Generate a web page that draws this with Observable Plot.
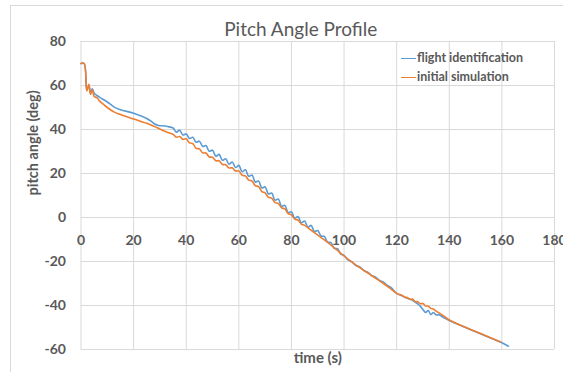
<!DOCTYPE html>
<html><head><meta charset="utf-8">
<script src="https://cdn.jsdelivr.net/npm/d3@7"></script>
<script src="https://cdn.jsdelivr.net/npm/@observablehq/plot@0.6"></script>
<style>
html,body{margin:0;padding:0;background:#fff;}
#wrap{position:relative;width:563px;height:372px;overflow:hidden;font-family:Lato,sans-serif;}
#frame{position:absolute;left:10px;top:5px;width:640px;height:440px;border:1px solid #d9d9d9;box-sizing:border-box;}
#chart{position:absolute;left:0;top:0;}
#legend{position:absolute;left:401px;top:48px;font-family:Lato,sans-serif;font-weight:bold;font-size:12.5px;color:#595959;line-height:19px;white-space:nowrap;}
#legend .sw{display:inline-block;width:15px;height:0;border-top:1.6px solid;vertical-align:middle;margin-right:1px;}
</style></head>
<body>
<div id="wrap"><div id="frame"></div><div id="chart"></div><div id="legend"></div></div>
<script>
const titleText = "Pitch Angle Profile";
const xLabel = "time (s)";
const yLabel = "pitch angle (deg)";
const seriesNames = ["flight identification", "initial simulation"];
const seriesColors = ["#5B9BD5", "#ED7D31"];
const xTicks = [0, 20, 40, 60, 80, 100, 120, 140, 160, 180];
const yTicks = [-60, -40, -20, 0, 20, 40, 60, 80];

const flightT = [0, 1.2, 2.2, 3, 3.6, 4.3, 5, 6, 8, 10, 12.5, 15, 20, 25, 27, 28, 29.5, 32, 33.5,
  35, 36.25, 37.5, 38.75, 40, 41.25, 42.5, 43.75, 45, 46.25, 47.5, 48.75, 50, 51.25, 52.5, 53.75,
  55, 56.25, 57.5, 58.75, 60, 61.25, 62.5, 63.75, 65, 66.25, 67.5, 68.75, 70, 71.25, 72.5, 73.75,
  75, 76.25, 77.5, 78.75, 80, 81.25, 82.5, 83.75, 85, 86.25, 87.5, 88.75, 90, 91.25, 92.5, 93.75,
  95, 96.25, 97.5, 98.75, 100, 101.5, 103, 104.5, 106, 107.5, 109, 110.5, 112, 113.5, 115, 116.5,
  118, 120, 122, 124, 126, 128, 129, 130, 131, 132, 133, 134, 135, 136, 138, 140, 145, 150, 155, 160, 162.5];
const flightV = [70, 70, 58, 60, 57, 58.5, 56.5, 55.5, 54, 52.5, 50.3, 49, 47.4, 45, 43.5, 42.5, 41.8, 41.6, 41.2,
  40.7, 38.8, 39.7, 37.5, 38.0, 35.9, 36.5, 34.2, 34.7, 32.3, 32.7, 30.1, 30.6, 27.8, 28.7, 26.0,
  26.7, 24.2, 25.2, 22.7, 23.7, 20.8, 21.7, 18.7, 19.3, 16.1, 16.6, 13.4, 13.9, 10.7, 11.1, 7.9,
  8.4, 5.1, 5.5, 2.2, 2.6, -0.3, 0.4, -2.4, -1.6, -4.4, -3.6, -6.4, -5.9, -8.4, -8.6, -11.2,
  -11.4, -14.0, -14.2, -16.7, -17.2, -19.3, -20.2, -21.9, -22.5, -24.1, -24.9, -26.4, -27.1, -28.6, -29.4, -30.9,
  -32, -34.5, -35.6, -36.7, -37.6, -39.3, -40.4, -41.8, -43.2, -42.3, -44.1, -43.2, -44.3, -44.2, -45.6, -46.8, -49.4, -51.9, -54.4, -56.9, -58.5];

const simT = [0, 1.2, 2.2, 3, 3.6, 4.3, 5, 6, 7, 8, 10, 12.5, 15, 20, 25, 28, 30, 33,
  35, 36.25, 37.5, 38.75, 40, 41.25, 42.5, 43.75, 45, 46.25, 47.5, 48.75, 50, 51.25, 52.5, 53.75,
  55, 56.25, 57.5, 58.75, 60, 61.25, 62.5, 63.75, 65, 66.25, 67.5, 68.75, 70, 71.25, 72.5, 73.75,
  75, 76.25, 77.5, 78.75, 80, 81.25, 82.5, 83.75, 85, 87.5, 90, 92.5, 95, 97.5, 100, 102.5, 105,
  107.5, 110, 112.5, 115, 117.5, 120, 121, 122, 123, 124, 125, 126, 127, 128, 129, 130, 131, 132,
  133, 134, 135, 136, 138, 140, 145, 150, 155, 159.5];
const simV = [70, 70, 57.5, 60.5, 56, 58, 55, 54.5, 53, 52, 50, 48, 46.8, 44.8, 42.8, 41.3, 40.2, 38.6,
  37.8, 36.5, 36.8, 35.5, 35.8, 33.9, 33.6, 31.4, 31.2, 29.4, 29.3, 27.5, 27.4, 25.8, 25.8, 24.1,
  24.0, 22.5, 22.6, 21.1, 21.2, 19.2, 18.9, 17.0, 16.6, 14.5, 14.0, 11.8, 11.2, 9.2, 8.8, 6.8,
  6.4, 4.4, 3.9, 1.8, 1.2, -0.7, -1.2, -3.0, -3.6, -5.8, -8, -10.2, -12.5, -15, -17.5, -19.8, -22,
  -24, -26, -28, -30, -32.2, -34.5, -35, -35.3, -36.2, -36.4, -37.2, -37.1, -38.2, -38.3, -39.2, -39.1, -40.2, -40.3,
  -41.3, -41.6, -42.6, -43.3, -44.8, -46.6, -49.3, -51.8, -54.3, -56.6];

const flight = flightT.map((t, i) => ({t, v: flightV[i]}));
const sim = simT.map((t, i) => ({t, v: simV[i]}));
const ink = "#595959";

const chart = Plot.plot({
  width: 563, height: 372,
  marginLeft: 80.5, marginRight: 9, marginTop: 41, marginBottom: 23,
  style: {fontFamily: "Lato, sans-serif", background: "transparent", overflow: "visible"},
  x: {domain: [0, 180], axis: null},
  y: {domain: [-60, 80], axis: null},
  marks: [
    Plot.gridX(xTicks, {stroke: "#d9d9d9", strokeOpacity: 1}),
    Plot.gridY(yTicks, {stroke: "#d9d9d9", strokeOpacity: 1}),
    Plot.text(yTicks, {x: d => 0, y: d => d, text: d => String(d), textAnchor: "end", dx: -15, fontSize: 14, fontWeight: "bold", fill: ink}),
    Plot.text(xTicks, {x: d => d, y: d => 0, text: d => String(d), dy: 23, fontSize: 14, fontWeight: "bold", fill: ink}),
    Plot.line(flight, {x: "t", y: "v", stroke: seriesColors[0], strokeWidth: 1.6, curve: "catmull-rom"}),
    Plot.line(sim, {x: "t", y: "v", stroke: seriesColors[1], strokeWidth: 1.6, curve: "catmull-rom"}),
    Plot.text([titleText], {frameAnchor: "top", text: d => d, dy: -19, dx: -17, fontSize: 19, fill: ink}),
    Plot.text([xLabel], {frameAnchor: "bottom", text: d => d, dy: 13, fontSize: 15, fontWeight: "bold", fill: ink}),
    Plot.text([yLabel], {frameAnchor: "left", text: d => d, dx: -48, rotate: -90, fontSize: 14.5, fontWeight: "bold", fill: ink})
  ]
});
document.getElementById("chart").appendChild(chart);

const legend = document.getElementById("legend");
seriesNames.forEach((name, i) => {
  const row = document.createElement("div");
  const sw = document.createElement("span");
  sw.className = "sw";
  sw.style.borderColor = seriesColors[i];
  row.appendChild(sw);
  row.appendChild(document.createTextNode(name));
  legend.appendChild(row);
});
</script>
</body></html>
